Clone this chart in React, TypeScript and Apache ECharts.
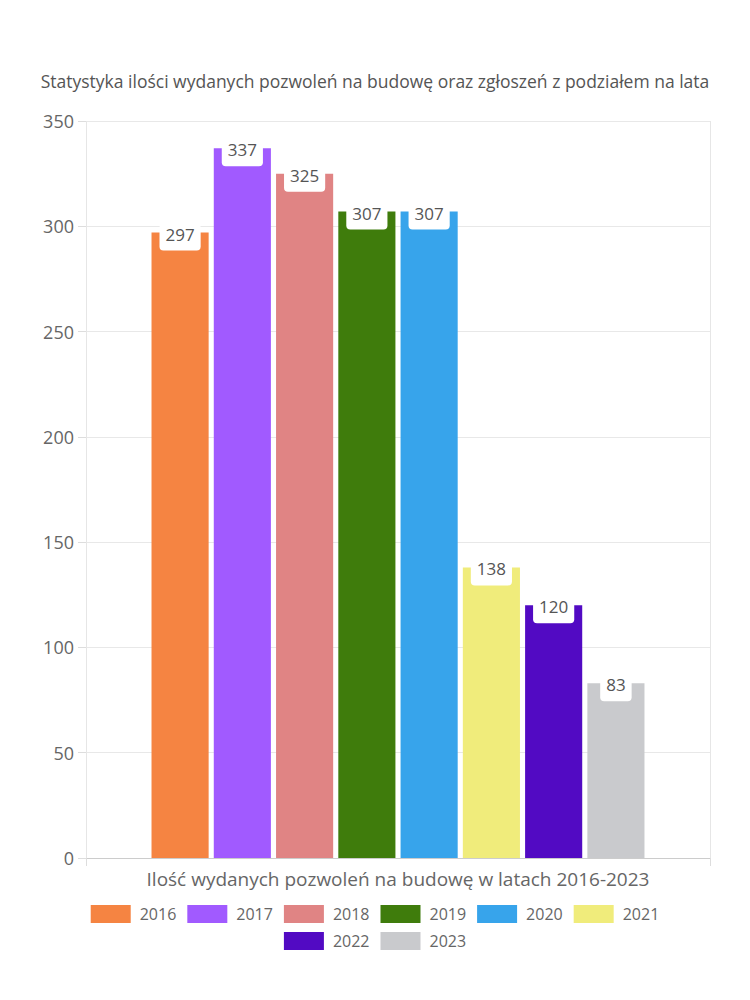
import React, { useEffect, useRef } from "react";
import * as echarts from "echarts";

const titleText = "Statystyka ilości wydanych pozwoleń na budowę oraz zgłoszeń z podziałem na lata";
const categories = ["Ilość wydanych pozwoleń na budowę w latach 2016-2023"];
const years = ["2016", "2017", "2018", "2019", "2020", "2021", "2022", "2023"];
const values = [297, 337, 325, 307, 307, 138, 120, 83];
const colors = ["#f58442", "#a15aff", "#e08484", "#3f7c0c", "#37a4eb", "#f0ec7b", "#520ac3", "#c9cacd"];
const yTicks = { min: 0, max: 350, interval: 50 };
const legendRow1 = years.slice(0, 6);
const legendRow2 = years.slice(6);

const FONT = "Open Sans";

export default function App() {
  const ref = useRef<HTMLDivElement>(null);
  useEffect(() => {
    if (!ref.current) return;
    const chart = echarts.init(ref.current, undefined, { renderer: "svg" });
    const legendBase = {
      left: "center",
      itemWidth: 40,
      itemHeight: 18,
      itemGap: 11,
      icon: "rect",
      textStyle: { fontFamily: FONT, fontSize: 16, color: "#666", padding: [0, 0, 0, 4] },
    };
    chart.setOption({
      animation: false,
      textStyle: { fontFamily: FONT },
      title: {
        text: titleText,
        left: "center",
        top: 67,
        textStyle: { fontFamily: FONT, fontSize: 17.5, fontWeight: "normal", color: "#555" },
      },
      grid: { left: 86, right: 40, top: 121, bottom: 142, containLabel: false },
      legend: [
        { ...legendBase, top: 900, data: legendRow1 },
        { ...legendBase, top: 927, data: legendRow2 },
      ],
      xAxis: {
        type: "category",
        data: categories,
        axisLine: { lineStyle: { color: "#cccccc" } },
        axisTick: { show: true, length: 8, lineStyle: { color: "#dddddd" } },
        splitLine: { show: true, lineStyle: { color: "#e6e6e6" } },
        axisLabel: { fontFamily: FONT, fontSize: 19, color: "#666", margin: 11 },
      },
      yAxis: {
        type: "value",
        min: yTicks.min,
        max: yTicks.max,
        interval: yTicks.interval,
        axisLine: { show: false },
        axisTick: { show: true, length: 8, lineStyle: { color: "#dddddd" } },
        splitLine: { lineStyle: { color: "#e8e8e8" } },
        axisLabel: { fontFamily: FONT, fontSize: 18, color: "#666", margin: 12 },
      },
      series: years.map((y, i) => ({
        name: y,
        type: "bar",
        barCategoryGap: "21%",
        barGap: "9%",
        itemStyle: { color: colors[i] },
        data: [values[i]],
        label: {
          show: true,
          position: "insideTop",
          distance: 0,
          offset: [0, -9],
          backgroundColor: "#ffffff",
          borderRadius: 4,
          padding: [2, 6, 8, 6],
          fontFamily: FONT,
          fontSize: 17,
          lineHeight: 17,
          color: "#555",
        },
      })),
    });
    return () => chart.dispose();
  }, []);
  return (
    <div
      ref={ref}
      style={{ position: "absolute", left: 0, top: 0, width: 750, height: 1000 }}
    />
  );
}
